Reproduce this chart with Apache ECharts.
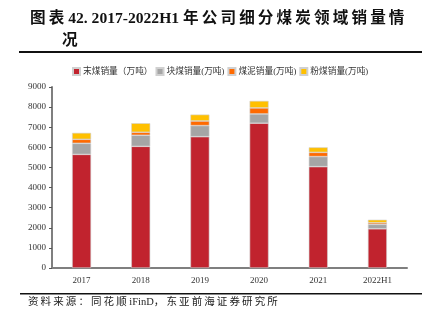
<!DOCTYPE html>
<html><head><meta charset="utf-8">
<script src="https://cdn.jsdelivr.net/npm/echarts@6/dist/echarts.min.js"></script>
<style>html,body{margin:0;padding:0;background:#fff}#c{width:429px;height:324px}</style>
</head><body><div id="c"></div>
<script>
const categories = ['2017','2018','2019','2020','2021','2022H1'];
const seriesNames = ['末煤销量（万吨）','块煤销量(万吨)','煤泥销量(万吨)','粉煤销量(万吨)'];
const mo = [5650, 6050, 6530, 7200, 5040, 1950];
const kuai = [550, 550, 550, 460, 500, 220];
const meini = [200, 150, 230, 300, 210, 80];
const fen = [320, 450, 320, 350, 250, 150];
const yTicks = [0,1000,2000,3000,4000,5000,6000,7000,8000,9000];
const colors = ['#C1232E','#A5A5A5','#FF6A00','#FFC000'];
const FONT = '"Liberation Serif","Noto Sans CJK SC",serif';
const values = [mo, kuai, meini, fen];
const TS = '\u2009';
function spaced(s){ return s.replace(/([\u3000-\u9fff\uff00-\uffef])(?=[\u3000-\u9fff\uff00-\uffef])/g, '$1'+TS); }

const chart = echarts.init(document.getElementById('c'), null, {renderer:'canvas'});
chart.setOption({
  animation:false,
  color: colors,
  textStyle:{fontFamily:FONT},
  grid:{left:52, right:22, top:87, bottom:56},
  legend:{
    top:62, left:67, itemWidth:7, itemHeight:7, itemGap:3,
    icon:'rect',
    textStyle:{fontSize:8.7, color:'#333', fontFamily:FONT, padding:[0,0,0,-2]},
    data: seriesNames
  },
  xAxis:{
    type:'category', data:categories,
    axisLine:{lineStyle:{color:'#7f7f7f', width:2}},
    axisTick:{show:false},
    axisLabel:{fontSize:9, color:'#333', margin:8, fontFamily:FONT}
  },
  yAxis:{
    type:'value', min:yTicks[0], max:yTicks[yTicks.length-1], interval:1000,
    axisLine:{show:true, lineStyle:{color:'#7f7f7f', width:2}},
    axisTick:{show:true, inside:false, length:3, lineStyle:{color:'#555', width:1}},
    splitLine:{show:false},
    axisLabel:{fontSize:9, color:'#333', margin:6, fontFamily:FONT, formatter:(v)=>String(v)}
  },
  series: seriesNames.map((n,i)=>({
    name:n, type:'bar', stack:'s', barWidth:19,
    data: values[i],
    itemStyle:{color:colors[i], borderColor:'#d0d0d0', borderWidth:0.6}
  })),
  graphic:[
    {type:'text', left:30, top:11, style:{text:spaced('图表')+' 42. 2017-2022H1 '+spaced('年公司细分煤炭领域销量情'), font:'bold 15.6px '+FONT, fill:'#111'}},
    {type:'text', left:62, top:33, style:{text:'况', font:'bold 15.6px '+FONT, fill:'#111'}},
    {type:'rect', shape:{x:19, y:51, width:403, height:2}, style:{fill:'#111'}},
    {type:'rect', shape:{x:20, y:293, width:402, height:1.5}, style:{fill:'#111'}},
    {type:'text', left:28, top:297, style:{text:spaced('资料来源：同花顺')+' iFinD'+spaced('，东亚前海证券研究所'), font:'10.5px '+FONT, fill:'#222'}}
  ]
});
</script></body></html>
